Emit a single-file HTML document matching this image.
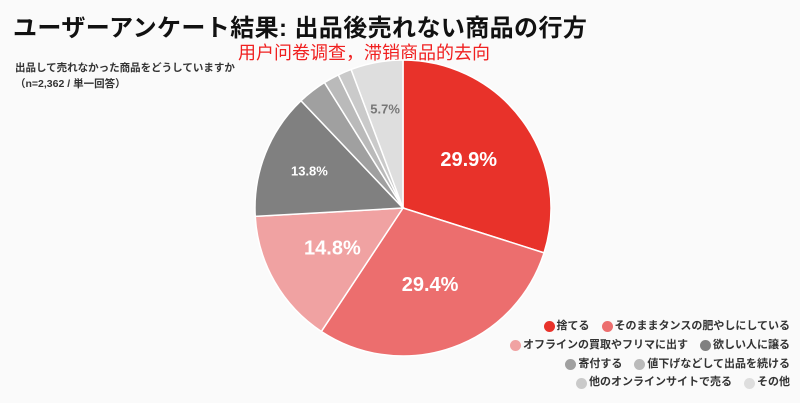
<!DOCTYPE html>
<html><head><meta charset="utf-8"><style>
body{margin:0;width:800px;height:403px;background:#fafafa;font-family:"Liberation Sans","Noto Sans CJK JP",sans-serif;position:relative;overflow:hidden}
.t{position:absolute;white-space:nowrap}
.leg{position:absolute;right:10px;font-size:11px;font-weight:bold;color:#333;white-space:nowrap;text-align:right}
.leg span{display:inline-flex;align-items:center;margin-left:12px}
.leg i{display:inline-block;width:11px;height:11px;border-radius:50%;margin-right:2px}
</style></head><body>
<div class="t" style="left:13px;top:8px;font-size:24px;font-weight:bold;color:#111;letter-spacing:0.4px">ユーザーアンケート結果: 出品後売れない商品の行方</div>
<div class="t" style="left:238px;top:39px;font-size:18px;color:#f02020;font-family:'Liberation Sans','Noto Sans CJK SC',sans-serif">用户问卷调查，滞销商品的去向</div>
<div class="t" style="left:15px;top:60px;font-size:10.5px;font-weight:bold;color:#333;line-height:16px">出品して売れなかった商品をどうしていますか<br>（n=2,362 / 単一回答）</div>
<svg id="pie" width="800" height="403" style="position:absolute;left:0;top:0"></svg>
<div class="leg" style="top:319px;line-height:15.5px">
<div><span><i style="background:#e8322a"></i>捨てる</span><span><i style="background:#ec6e6e"></i>そのままタンスの肥やしにしている</span></div>
<div><span><i style="background:#f0a2a2"></i>オフラインの買取やフリマに出す</span><span><i style="background:#808080"></i>欲しい人に譲る</span></div>
<div><span><i style="background:#a0a0a0"></i>寄付する</span><span><i style="background:#bababa"></i>値下げなどして出品を続ける</span></div>
<div><span><i style="background:#cacaca"></i>他のオンラインサイトで売る</span><span><i style="background:#dedede"></i>その他</span></div>
</div>
<script>
const categories=["捨てる","そのままタンスの肥やしにしている","オフラインの買取やフリマに出す","欲しい人に譲る","寄付する","値下げなどして出品を続ける","他のオンラインサイトで売る","その他"];
const values=[29.9,29.4,14.8,13.8,3.2,1.7,1.5,5.7];
const labels=["29.9%","29.4%","14.8%","13.8%","","","","5.7%"];
const colors=["#e8322a","#ec6e6e","#f0a2a2","#808080","#a0a0a0","#bababa","#cacaca","#dedede"];
const svg=document.getElementById('pie');
const NS="http://www.w3.org/2000/svg";
const cx=403,cy=208,r=148;
const total=values.reduce((a,b)=>a+b,0);
function pt(a,rr){return [cx+rr*Math.sin(a),cy-rr*Math.cos(a)];}
let acc=0;
values.forEach((v,i)=>{
 const a0=acc/total*2*Math.PI;acc+=v;const a1=acc/total*2*Math.PI;
 const [x0,y0]=pt(a0,r),[x1,y1]=pt(a1,r);
 const p=document.createElementNS(NS,'path');
 p.setAttribute('d',`M${cx},${cy}L${x0},${y0}A${r},${r} 0 ${a1-a0>Math.PI?1:0} 1 ${x1},${y1}Z`);
 p.setAttribute('fill',colors[i]);p.setAttribute('stroke','#fff');p.setAttribute('stroke-width','1.5');
 
 
 svg.appendChild(p);
 if(labels[i]){
  const am=(a0+a1)/2;const big=v>14;
  const [lx,ly]=pt(am,big?r*0.55:r*0.68);
  const t=document.createElementNS(NS,'text');
  t.setAttribute('x',lx);t.setAttribute('y',ly);t.setAttribute('text-anchor','middle');t.setAttribute('dominant-baseline','central');
  t.setAttribute('font-size',big?'20':'13');t.setAttribute('font-weight','bold');
  t.setAttribute('fill',i===7?'#777':'#fff');
  t.textContent=labels[i];
  
  
  svg.appendChild(t);
 }
});
</script>
</body></html>
